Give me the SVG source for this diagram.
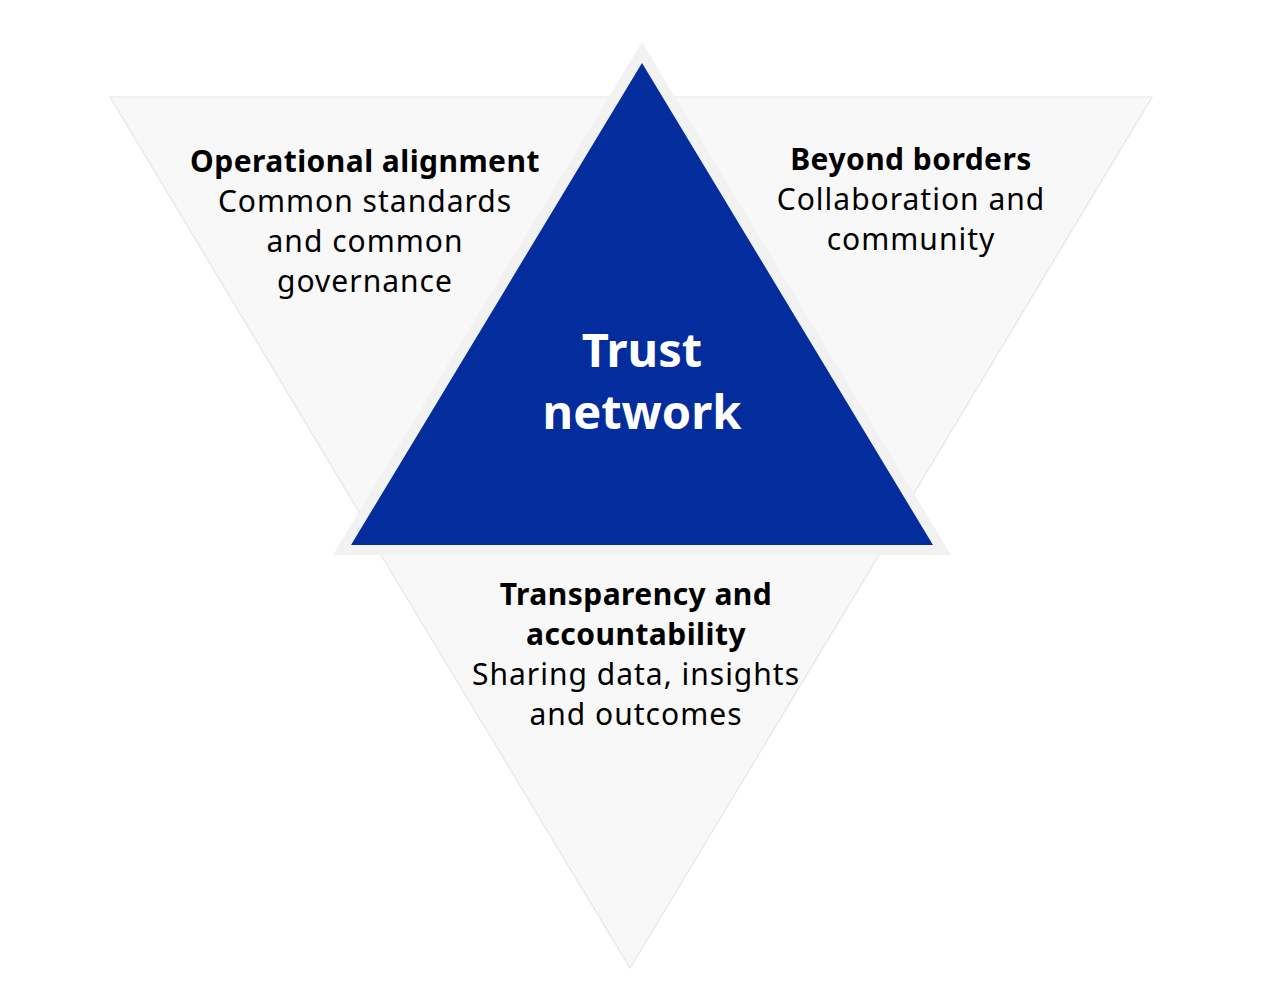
<svg xmlns="http://www.w3.org/2000/svg" width="1266" height="1000" viewBox="0 0 1266 1000">
<style>
.petal{fill:#f8f8f8;stroke:#e6e6e6;stroke-width:1.2}
.t{font-family:"Noto Sans","Open Sans","Liberation Sans",sans-serif;text-anchor:middle;fill:#000}
.h{font-weight:700;font-size:30px;letter-spacing:0.45px}
.b{font-weight:400;font-size:30px;letter-spacing:1px}
.c{font-family:"Noto Sans","Open Sans","Liberation Sans",sans-serif;text-anchor:middle;fill:#fff;font-weight:700;font-size:47px}
</style>
<rect width="1266" height="1000" fill="#fff"/>
<g id="connectors"/>
<g id="node-operational">
<polygon class="petal" points="110,97 650,97 380,547"/>
</g>
<g id="node-beyond">
<polygon class="petal" points="620,97 1152,97 886,540"/>
</g>
<g id="node-transparency">
<polygon class="petal" points="372,540 888,540 630,968"/>
</g>
<g id="node-trust">
<polygon points="642,42 951,555 333,555" fill="#f2f2f2"/>
<polygon points="642,63 933,545 351,545" fill="#032d9c"/>
<text class="c" x="642" y="367">Trust</text>
<text class="c" x="642" y="429">network</text>
</g>
<g id="label-operational">
<text class="t h" x="365" y="172">Operational alignment</text>
<text class="t b" x="365" y="212">Common standards</text>
<text class="t b" x="365" y="252">and common</text>
<text class="t b" x="365" y="292">governance</text>
</g>
<g id="label-beyond">
<text class="t h" x="911" y="170">Beyond borders</text>
<text class="t b" x="911" y="210">Collaboration and</text>
<text class="t b" x="911" y="250">community</text>
</g>
<g id="label-transparency">
<text class="t h" x="636" y="605">Transparency and</text>
<text class="t h" x="636" y="645">accountability</text>
<text class="t b" x="636" y="685">Sharing data, insights</text>
<text class="t b" x="636" y="725">and outcomes</text>
</g>
</svg>
